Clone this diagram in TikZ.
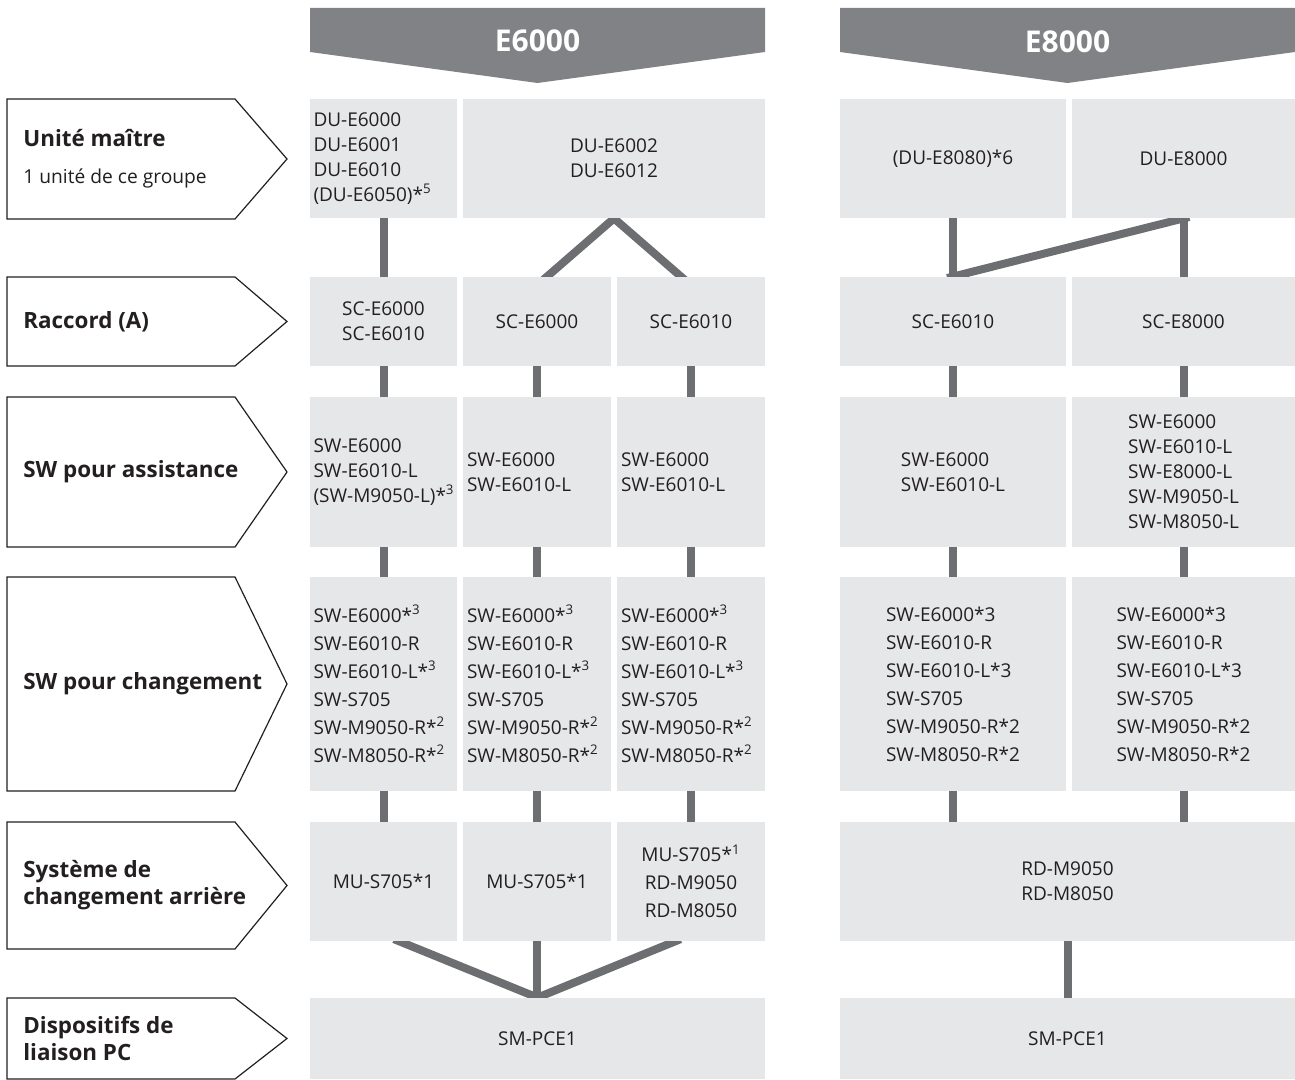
\documentclass[tikz,border=0pt]{standalone}
\usepackage{fontspec}
\setmainfont{Open Sans}
\usetikzlibrary{backgrounds}

\definecolor{bannergray}{HTML}{808285}
\definecolor{cellgray}{HTML}{E6E7E8}
\definecolor{linkgray}{HTML}{6D6E71}
\definecolor{ink}{HTML}{231F20}

% small raised footnote number after the star
\newcommand{\supnote}[1]{*\textsuperscript{#1}}

% row label: white box with a pointer to the right
\newcommand{\rowtag}[4]{%
  \draw[tag] (7,#2) -- (235,#2) -- (287,{(#2+#3)/2}) -- (235,#3) -- (7,#3) -- cycle;
  \node[tagtext] (#1) at (23,{(#2+#3)/2}) {#4};}

% grey cell between two corners given in pixels
\newcommand{\boxcell}[7][]{%
  \node[cell,#1,minimum width={(#5-#3)*0.5pt},minimum height={(#6-#4)*0.5pt}]
    (#2) at ({(#3+#5)/2},{(#4+#6)/2}) {#7};}

\begin{document}
\begin{tikzpicture}[x=0.5pt,y=-0.5pt,
    cell/.style={fill=cellgray,inner sep=0pt,align=left,text=ink,
      font=\fontsize{9.5}{12.5}\selectfont},
    tall/.style={font=\fontsize{9.5}{14}\selectfont},
    flush/.style={text width=70pt},
    link/.style={draw=linkgray,line width=4pt,shorten <=-3pt,shorten >=-3pt},
    banner/.style={fill=bannergray},
    bannertext/.style={text=white,font=\bfseries\fontsize{15}{18}\selectfont},
    tag/.style={draw=ink,line width=0.6pt,fill=white},
    tagtext/.style={anchor=west,inner xsep=0pt,align=left,text=ink,
      font=\bfseries\fontsize{11.2}{13.5}\selectfont}]

    \useasboundingbox (0,0) rectangle (1295,1080);

    % Headers of the two groups
    \fill[banner] (310,8) -- (765,8) -- (765,52) -- (537.5,83) -- (310,52) -- cycle;
    \node[bannertext] (e6000) at (537.5,41) {E6000};
    \fill[banner] (840,8) -- (1295,8) -- (1295,52) -- (1067.5,83) -- (840,52) -- cycle;
    \node[bannertext] (e8000) at (1067.5,42) {E8000};

    % Row labels on the left
    \rowtag{tmu}{99}{219}{Unité maître\\[5pt]{\mdseries\fontsize{9.6}{12}\selectfont 1 unité de ce groupe}}
    \rowtag{tsc}{277}{366}{Raccord (A)}
    \rowtag{tswa}{397}{547}{SW pour assistance}
    \rowtag{tsws}{577}{791}{SW pour changement}
    \rowtag{trd}{822}{949}{Système de\\changement arrière}
    \rowtag{tpc}{998}{1079}{Dispositifs de\\liaison PC}

    % E6000 cells
    \boxcell[flush]{mu1}{310}{99}{457}{218}{DU-E6000\\DU-E6001\\DU-E6010\\(DU-E6050)\supnote{5}}
    \boxcell[align=center]{mu2}{463}{99}{765}{218}{DU-E6002\\DU-E6012}

    \boxcell[align=center]{sc1}{310}{277}{457}{366}{SC-E6000\\SC-E6010}
    \boxcell{sc2}{463}{277}{611}{366}{SC-E6000}
    \boxcell{sc3}{617}{277}{765}{366}{SC-E6010}

    \boxcell[flush]{swa1}{310}{397}{457}{547}{SW-E6000\\SW-E6010-L\\\mbox{(SW-M9050-L)\supnote{3}}}
    \boxcell[flush]{swa2}{463}{397}{611}{547}{SW-E6000\\SW-E6010-L}
    \boxcell[flush]{swa3}{617}{397}{765}{547}{SW-E6000\\SW-E6010-L}

    \boxcell[tall,flush]{sws1}{310}{577}{457}{791}{SW-E6000\supnote{3}\\SW-E6010-R\\SW-E6010-L\supnote{3}\\SW-S705\\SW-M9050-R\supnote{2}\\SW-M8050-R\supnote{2}}
    \boxcell[tall,flush]{sws2}{463}{577}{611}{791}{SW-E6000\supnote{3}\\SW-E6010-R\\SW-E6010-L\supnote{3}\\SW-S705\\SW-M9050-R\supnote{2}\\SW-M8050-R\supnote{2}}
    \boxcell[tall,flush]{sws3}{617}{577}{765}{791}{SW-E6000\supnote{3}\\SW-E6010-R\\SW-E6010-L\supnote{3}\\SW-S705\\SW-M9050-R\supnote{2}\\SW-M8050-R\supnote{2}}

    \boxcell{rd1}{310}{822}{457}{941}{MU-S705*1}
    \boxcell{rd2}{463}{822}{611}{941}{MU-S705*1}
    \boxcell[tall,align=center]{rd3}{617}{822}{765}{941}{MU-S705\supnote{1}\\RD-M9050\\RD-M8050}

    \boxcell{pc1}{310}{998}{765}{1079}{SM-PCE1}

    % E8000 cells
    \boxcell{mu4}{840}{99}{1066}{218}{(DU-E8080)*6}
    \boxcell{mu5}{1072}{99}{1295}{218}{DU-E8000}

    \boxcell{sc4}{840}{277}{1066}{366}{SC-E6010}
    \boxcell{sc5}{1072}{277}{1295}{366}{SC-E8000}

    \boxcell{swa4}{840}{397}{1066}{547}{SW-E6000\\SW-E6010-L}
    \boxcell{swa5}{1072}{397}{1295}{547}{SW-E6000\\SW-E6010-L\\SW-E8000-L\\SW-M9050-L\\SW-M8050-L}

    \boxcell[tall]{sws4}{840}{577}{1066}{791}{SW-E6000*3\\SW-E6010-R\\SW-E6010-L*3\\SW-S705\\SW-M9050-R*2\\SW-M8050-R*2}
    \boxcell[tall]{sws5}{1072}{577}{1295}{791}{SW-E6000*3\\SW-E6010-R\\SW-E6010-L*3\\SW-S705\\SW-M9050-R*2\\SW-M8050-R*2}

    \boxcell{rd4}{840}{822}{1295}{941}{RD-M9050\\RD-M8050}

    \boxcell{pc2}{840}{998}{1295}{1079}{SM-PCE1}

    % Connections behind the cells
    \begin{scope}[on background layer]
        \foreach \a/\b in {mu1/sc1,sc1/swa1,sc2/swa2,sc3/swa3,
                           swa1/sws1,swa2/sws2,swa3/sws3,
                           sws1/rd1,sws2/rd2,sws3/rd3,
                           mu4/sc4,mu5/sc5,sc4/swa4,sc5/swa5,
                           swa4/sws4,swa5/sws5,rd4/pc2}
            \draw[link] (\a) -- (\b);
        \draw[link] ([xshift=5pt]sc2.north) -- (mu2.south) -- ([xshift=-5pt]sc3.north);
        \draw[link] (sc4.north) -- (mu5.south);
        \draw[link] (sws4.south) -- (sws4.south |- rd4.north);
        \draw[link] (sws5.south) -- (sws5.south |- rd4.north);
        \draw[link] ([xshift=8pt]rd1.south) -- (pc1.north) -- ([xshift=-8pt]rd3.south);
        \draw[link] (rd2.south) -- (rd2.south |- pc1.north);
    \end{scope}

\end{tikzpicture}
\end{document}
